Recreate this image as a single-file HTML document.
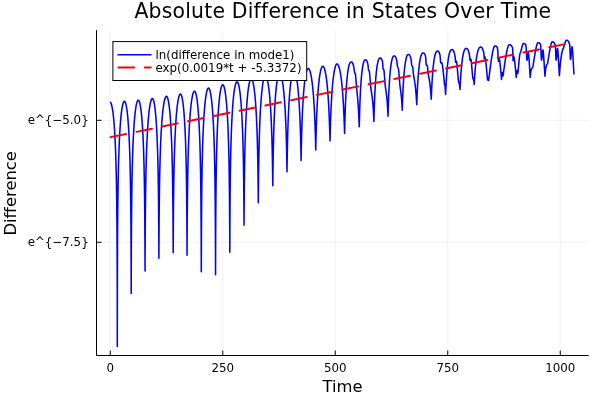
<!DOCTYPE html>
<html><head><meta charset="utf-8"><title>Absolute Difference in States Over Time</title>
<style>
html,body{margin:0;padding:0;background:#fff;}
body{width:600px;height:400px;overflow:hidden;}
svg{display:block;}
text{font-family:"DejaVu Sans","Liberation Sans",sans-serif;fill:#000;}
.tick{font-size:11.85px;}
.guide{font-size:16.4px;}
.title{font-size:20.4px;letter-spacing:0.2px;}
.leg{font-size:11.85px;}
</style></head><body>
<svg width="600" height="400" viewBox="0 0 600 400">
<rect x="0" y="0" width="600" height="400" fill="#ffffff"/>

<line x1="110.25" y1="30.2" x2="110.25" y2="355.5" stroke="#000" stroke-opacity="0.1" stroke-width="0.5"/>
<line x1="222.75" y1="30.2" x2="222.75" y2="355.5" stroke="#000" stroke-opacity="0.1" stroke-width="0.5"/>
<line x1="335.25" y1="30.2" x2="335.25" y2="355.5" stroke="#000" stroke-opacity="0.1" stroke-width="0.5"/>
<line x1="447.75" y1="30.2" x2="447.75" y2="355.5" stroke="#000" stroke-opacity="0.1" stroke-width="0.5"/>
<line x1="560.25" y1="30.2" x2="560.25" y2="355.5" stroke="#000" stroke-opacity="0.1" stroke-width="0.5"/>
<line x1="96.5" y1="120.30" x2="588.6" y2="120.30" stroke="#000" stroke-opacity="0.1" stroke-width="0.5"/>
<line x1="96.5" y1="242.25" x2="588.6" y2="242.25" stroke="#000" stroke-opacity="0.1" stroke-width="0.5"/>
<clipPath id="c"><rect x="96.5" y="30.2" width="492.1" height="325.3"/></clipPath>
<g clip-path="url(#c)"><polyline points="110.00,102.00 110.36,102.15 110.71,102.57 111.05,103.25 111.39,104.19 111.71,105.35 112.03,106.75 112.33,108.36 112.63,110.18 112.92,112.21 113.19,114.44 113.46,116.88 113.72,119.51 113.97,122.35 114.22,125.40 114.45,128.65 114.67,132.11 114.89,135.79 115.09,139.71 115.29,143.86 115.47,148.27 115.65,152.95 115.82,157.92 115.98,163.20 116.13,168.83 116.27,174.83 116.41,181.25 116.53,188.14 116.64,195.56 116.75,203.58 116.84,212.30 116.93,221.83 117.01,232.30 117.08,243.90 117.14,256.83 117.19,271.31 117.23,287.53 117.26,305.41 117.28,323.96 117.30,339.81 117.30,346.50 117.30,339.72 117.32,323.68 117.34,304.98 117.37,287.00 117.41,270.72 117.46,256.19 117.52,243.24 117.58,231.62 117.66,221.13 117.74,211.60 117.84,202.87 117.94,194.84 118.05,187.42 118.17,180.53 118.30,174.10 118.44,168.10 118.58,162.47 118.74,157.18 118.90,152.21 119.08,147.53 119.26,143.12 119.45,138.97 119.65,135.05 119.86,131.37 120.07,127.90 120.30,124.65 120.53,121.61 120.78,118.77 121.03,116.13 121.29,113.69 121.56,111.46 121.84,109.43 122.13,107.61 122.43,106.00 122.74,104.60 123.05,103.44 123.37,102.50 123.71,101.82 124.05,101.40 124.40,101.25 124.40,101.25 124.74,101.39 125.06,101.81 125.38,102.48 125.69,103.40 125.99,104.55 126.29,105.92 126.57,107.50 126.85,109.29 127.12,111.28 127.38,113.47 127.63,115.86 127.87,118.44 128.10,121.22 128.33,124.19 128.54,127.37 128.75,130.74 128.95,134.33 129.14,138.13 129.33,142.16 129.50,146.42 129.67,150.94 129.82,155.71 129.97,160.77 130.11,166.13 130.24,171.82 130.37,177.86 130.48,184.29 130.59,191.14 130.69,198.46 130.78,206.28 130.86,214.65 130.93,223.61 130.99,233.19 131.05,243.35 131.09,254.00 131.13,264.87 131.16,275.41 131.18,284.62 131.20,291.12 131.20,293.50 131.20,291.07 131.22,284.44 131.24,275.07 131.27,264.40 131.31,253.41 131.36,242.67 131.42,232.43 131.48,222.80 131.56,213.80 131.64,205.39 131.74,197.54 131.84,190.20 131.95,183.34 132.07,176.89 132.20,170.84 132.34,165.14 132.48,159.77 132.64,154.71 132.80,149.93 132.98,145.41 133.16,141.14 133.35,137.11 133.55,133.30 133.76,129.71 133.97,126.33 134.20,123.16 134.43,120.18 134.68,117.40 134.93,114.82 135.19,112.43 135.46,110.24 135.74,108.24 136.03,106.45 136.33,104.87 136.64,103.50 136.95,102.35 137.27,101.43 137.61,100.76 137.95,100.34 138.30,100.20 138.30,100.20 138.63,100.34 138.96,100.75 139.27,101.42 139.58,102.32 139.88,103.45 140.17,104.80 140.46,106.36 140.73,108.12 141.00,110.08 141.25,112.24 141.50,114.58 141.74,117.12 141.97,119.85 142.20,122.77 142.41,125.88 142.62,129.18 142.82,132.69 143.01,136.40 143.19,140.33 143.36,144.47 143.53,148.85 143.68,153.47 143.83,158.35 143.97,163.50 144.10,168.95 144.22,174.70 144.34,180.78 144.44,187.21 144.54,194.01 144.63,201.20 144.71,208.79 144.78,216.77 144.84,225.10 144.90,233.70 144.94,242.39 144.98,250.88 145.01,258.68 145.03,265.14 145.05,269.47 145.05,271.00 145.05,269.41 145.07,264.95 145.09,258.30 145.12,250.30 145.16,241.64 145.22,232.79 145.28,224.07 145.34,215.63 145.42,207.57 145.51,199.92 145.61,192.67 145.71,185.82 145.83,179.35 145.95,173.24 146.08,167.46 146.23,162.00 146.38,156.83 146.54,151.93 146.71,147.30 146.89,142.91 147.08,138.75 147.27,134.82 147.48,131.09 147.70,127.58 147.92,124.27 148.16,121.15 148.40,118.23 148.65,115.50 148.91,112.96 149.18,110.60 149.46,108.45 149.75,106.48 150.05,104.72 150.36,103.16 150.68,101.81 151.00,100.67 151.34,99.77 151.68,99.10 152.04,98.69 152.40,98.55 152.40,98.55 152.72,98.69 153.03,99.10 153.34,99.75 153.64,100.65 153.92,101.77 154.20,103.10 154.48,104.65 154.74,106.39 155.00,108.33 155.24,110.46 155.48,112.77 155.72,115.28 155.94,117.97 156.15,120.85 156.36,123.91 156.56,127.17 156.75,130.62 156.93,134.27 157.11,138.12 157.28,142.19 157.43,146.47 157.58,150.99 157.73,155.74 157.86,160.75 157.99,166.02 158.10,171.58 158.21,177.43 158.31,183.58 158.41,190.05 158.49,196.84 158.57,203.95 158.64,211.33 158.70,218.94 158.75,226.67 158.80,234.33 158.84,241.65 158.86,248.21 158.88,253.50 158.90,256.98 158.90,258.20 158.90,256.92 158.92,253.29 158.94,247.77 158.98,240.97 159.02,233.43 159.07,225.56 159.13,217.65 159.20,209.89 159.28,202.38 159.38,195.18 159.47,188.30 159.58,181.76 159.70,175.55 159.83,169.65 159.97,164.05 160.12,158.74 160.27,153.70 160.44,148.92 160.61,144.38 160.80,140.08 160.99,135.99 161.20,132.12 161.41,128.46 161.64,125.00 161.87,121.73 162.11,118.66 162.36,115.77 162.62,113.07 162.89,110.56 163.18,108.24 163.46,106.10 163.76,104.16 164.07,102.41 164.39,100.86 164.72,99.53 165.06,98.40 165.40,97.51 165.76,96.85 166.12,96.44 166.50,96.30 166.50,96.30 166.83,96.44 167.15,96.84 167.47,97.50 167.77,98.39 168.07,99.51 168.36,100.84 168.64,102.37 168.91,104.11 169.18,106.04 169.43,108.16 169.68,110.47 169.92,112.96 170.15,115.64 170.37,118.51 170.58,121.56 170.79,124.79 170.98,128.22 171.17,131.85 171.35,135.68 171.53,139.72 171.69,143.97 171.84,148.45 171.99,153.16 172.13,158.12 172.26,163.34 172.38,168.83 172.49,174.60 172.60,180.66 172.69,187.03 172.78,193.69 172.86,200.63 172.93,207.83 172.99,215.22 173.05,222.68 173.10,230.03 173.13,237.01 173.16,243.23 173.18,248.21 173.20,251.46 173.20,252.60 173.20,251.41 173.22,248.01 173.24,242.82 173.27,236.37 173.31,229.17 173.36,221.60 173.42,213.96 173.49,206.43 173.57,199.10 173.65,192.05 173.75,185.30 173.85,178.87 173.97,172.74 174.09,166.92 174.22,161.38 174.36,156.13 174.51,151.14 174.67,146.39 174.84,141.89 175.01,137.62 175.20,133.56 175.39,129.71 175.60,126.07 175.81,122.63 176.03,119.38 176.26,116.32 176.50,113.45 176.75,110.76 177.01,108.26 177.28,105.94 177.55,103.81 177.84,101.88 178.13,100.14 178.44,98.60 178.75,97.26 179.07,96.15 179.40,95.25 179.74,94.60 180.09,94.19 180.45,94.05 180.45,94.05 180.78,94.19 181.09,94.60 181.40,95.26 181.70,96.15 182.00,97.27 182.28,98.61 182.56,100.15 182.83,101.90 183.09,103.84 183.34,105.98 183.58,108.30 183.82,110.81 184.04,113.50 184.26,116.39 184.47,119.46 184.67,122.72 184.87,126.18 185.05,129.84 185.23,133.70 185.40,137.78 185.56,142.08 185.71,146.61 185.86,151.38 185.99,156.41 186.12,161.71 186.24,167.29 186.35,173.18 186.46,179.37 186.55,185.89 186.64,192.74 186.72,199.91 186.79,207.37 186.85,215.08 186.90,222.93 186.95,230.73 186.98,238.20 187.01,244.92 187.03,250.36 187.05,253.94 187.05,255.20 187.05,253.87 187.07,250.08 187.09,244.35 187.12,237.32 187.17,229.56 187.22,221.49 187.28,213.42 187.35,205.53 187.43,197.90 187.52,190.61 187.62,183.65 187.73,177.05 187.84,170.78 187.97,164.84 188.10,159.20 188.25,153.86 188.40,148.79 188.57,143.98 188.74,139.42 188.93,135.10 189.12,131.00 189.32,127.12 189.53,123.44 189.75,119.97 189.98,116.69 190.22,113.61 190.47,110.72 190.73,108.01 190.99,105.49 191.27,103.16 191.55,101.02 191.85,99.07 192.15,97.32 192.47,95.77 192.79,94.43 193.12,93.31 193.47,92.41 193.82,91.75 194.18,91.34 194.55,91.20 194.55,91.20 194.88,91.34 195.21,91.76 195.52,92.43 195.83,93.34 196.13,94.48 196.42,95.83 196.71,97.41 196.98,99.18 197.25,101.16 197.50,103.33 197.75,105.70 197.99,108.26 198.22,111.01 198.45,113.96 198.66,117.10 198.87,120.44 199.07,123.99 199.26,127.75 199.44,131.72 199.61,135.93 199.78,140.37 199.93,145.07 200.08,150.04 200.22,155.30 200.35,160.86 200.47,166.76 200.59,173.01 200.69,179.65 200.79,186.70 200.88,194.20 200.96,202.17 201.03,210.62 201.09,219.54 201.15,228.87 201.19,238.46 201.23,248.01 201.26,257.00 201.28,264.61 201.30,269.83 201.30,271.70 201.30,269.71 201.32,264.17 201.34,256.15 201.37,246.75 201.41,236.85 201.46,226.97 201.52,217.41 201.59,208.31 201.66,199.72 201.75,191.63 201.84,184.04 201.95,176.91 202.06,170.21 202.18,163.91 202.31,157.97 202.45,152.37 202.60,147.09 202.76,142.09 202.92,137.37 203.10,132.91 203.28,128.69 203.48,124.69 203.68,120.92 203.89,117.36 204.11,114.01 204.34,110.86 204.58,107.91 204.83,105.15 205.08,102.58 205.35,100.21 205.62,98.03 205.91,96.05 206.20,94.27 206.50,92.69 206.81,91.33 207.13,90.19 207.46,89.28 207.80,88.61 208.14,88.19 208.50,88.05 208.50,88.05 208.85,88.19 209.19,88.61 209.52,89.28 209.84,90.19 210.15,91.34 210.46,92.70 210.75,94.28 211.04,96.06 211.32,98.05 211.58,100.23 211.84,102.61 212.10,105.18 212.34,107.95 212.57,110.91 212.80,114.07 213.01,117.43 213.22,121.00 213.42,124.78 213.61,128.79 213.79,133.02 213.96,137.51 214.12,142.25 214.28,147.27 214.42,152.58 214.56,158.21 214.69,164.19 214.81,170.53 214.92,177.29 215.02,184.49 215.11,192.16 215.19,200.35 215.27,209.08 215.33,218.35 215.39,228.12 215.44,238.27 215.48,248.51 215.51,258.30 215.53,266.72 215.55,272.58 215.55,274.70 215.55,272.43 215.57,266.20 215.59,257.32 215.62,247.09 215.66,236.48 215.71,226.04 215.77,216.03 215.84,206.58 215.91,197.71 216.00,189.41 216.09,181.65 216.20,174.38 216.31,167.57 216.43,161.17 216.56,155.16 216.70,149.49 216.85,144.15 217.01,139.11 217.17,134.34 217.35,129.84 217.53,125.59 217.73,121.57 217.93,117.78 218.14,114.20 218.36,110.83 218.59,107.66 218.83,104.69 219.08,101.92 219.33,99.34 219.60,96.96 219.87,94.77 220.16,92.78 220.45,90.99 220.75,89.41 221.06,88.04 221.38,86.90 221.71,85.98 222.05,85.31 222.39,84.89 222.75,84.75 222.75,84.75 223.10,84.89 223.44,85.30 223.77,85.96 224.09,86.86 224.40,87.99 224.71,89.34 225.00,90.89 225.29,92.65 225.57,94.60 225.83,96.75 226.09,99.09 226.35,101.62 226.59,104.34 226.82,107.24 227.05,110.34 227.26,113.63 227.47,117.12 227.67,120.82 227.86,124.72 228.04,128.85 228.21,133.20 228.37,137.79 228.53,142.63 228.67,147.75 228.81,153.14 228.94,158.84 229.06,164.85 229.17,171.20 229.27,177.91 229.36,184.99 229.44,192.44 229.52,200.24 229.58,208.36 229.64,216.70 229.69,225.08 229.73,233.21 229.76,240.63 229.78,246.71 229.80,250.77 229.80,252.20 229.80,250.68 229.82,246.38 229.84,239.96 229.87,232.20 229.91,223.75 229.96,215.09 230.02,206.52 230.09,198.21 230.16,190.25 230.25,182.68 230.34,175.50 230.45,168.70 230.56,162.28 230.68,156.20 230.81,150.46 230.95,145.02 231.10,139.88 231.26,135.00 231.42,130.38 231.60,126.01 231.78,121.86 231.98,117.94 232.18,114.23 232.39,110.72 232.61,107.42 232.84,104.31 233.08,101.39 233.33,98.67 233.58,96.13 233.85,93.78 234.12,91.63 234.41,89.67 234.70,87.91 235.00,86.35 235.31,85.00 235.63,83.87 235.96,82.97 236.30,82.30 236.64,81.89 237.00,81.75 237.00,81.75 237.35,81.89 237.69,82.29 238.02,82.93 238.34,83.81 238.65,84.90 238.96,86.21 239.25,87.72 239.54,89.43 239.82,91.32 240.08,93.40 240.34,95.67 240.60,98.11 240.84,100.74 241.07,103.54 241.30,106.52 241.51,109.68 241.72,113.02 241.92,116.55 242.11,120.27 242.29,124.18 242.46,128.30 242.62,132.61 242.78,137.14 242.92,141.89 243.06,146.87 243.19,152.07 243.31,157.51 243.42,163.19 243.52,169.10 243.61,175.22 243.69,181.52 243.77,187.97 243.83,194.47 243.89,200.92 243.94,207.14 243.98,212.90 244.01,217.90 244.03,221.82 244.05,224.33 244.05,225.20 244.05,224.28 244.07,221.62 244.09,217.50 244.12,212.25 244.16,206.24 244.21,199.78 244.27,193.12 244.34,186.42 244.41,179.81 244.50,173.37 244.59,167.12 244.70,161.12 244.81,155.35 244.93,149.84 245.06,144.57 245.20,139.54 245.35,134.74 245.51,130.16 245.67,125.81 245.85,121.66 246.03,117.72 246.23,113.98 246.43,110.43 246.64,107.06 246.86,103.88 247.09,100.89 247.33,98.07 247.58,95.43 247.83,92.98 248.10,90.70 248.37,88.61 248.66,86.71 248.95,85.00 249.25,83.48 249.56,82.17 249.88,81.07 250.21,80.19 250.55,79.54 250.89,79.14 251.25,79.00 251.25,79.00 251.60,79.13 251.94,79.52 252.27,80.14 252.59,80.99 252.90,82.04 253.21,83.30 253.50,84.76 253.79,86.40 254.07,88.22 254.33,90.22 254.59,92.39 254.85,94.73 255.09,97.24 255.32,99.91 255.55,102.74 255.76,105.74 255.97,108.91 256.17,112.24 256.36,115.73 256.54,119.39 256.71,123.22 256.87,127.22 257.03,131.39 257.17,135.72 257.31,140.23 257.44,144.90 257.56,149.72 257.67,154.69 257.77,159.78 257.86,164.97 257.94,170.21 258.02,175.44 258.08,180.58 258.14,185.53 258.19,190.16 258.23,194.31 258.26,197.80 258.28,200.46 258.30,202.13 258.30,202.70 258.30,202.10 258.32,200.33 258.34,197.52 258.37,193.85 258.41,189.50 258.46,184.67 258.52,179.52 258.58,174.19 258.66,168.79 258.74,163.40 258.84,158.08 258.94,152.87 259.05,147.80 259.17,142.89 259.30,138.14 259.44,133.56 259.58,129.16 259.74,124.94 259.90,120.89 260.07,117.02 260.26,113.31 260.45,109.79 260.65,106.43 260.86,103.23 261.07,100.21 261.30,97.35 261.53,94.66 261.78,92.13 262.03,89.77 262.29,87.59 262.56,85.58 262.84,83.74 263.13,82.09 263.43,80.63 263.74,79.36 264.05,78.30 264.37,77.45 264.71,76.82 265.05,76.43 265.40,76.30 265.40,76.30 265.77,76.43 266.12,76.80 266.47,77.40 266.81,78.21 267.13,79.23 267.45,80.44 267.76,81.84 268.06,83.42 268.36,85.17 268.64,87.08 268.91,89.16 269.17,91.40 269.43,93.79 269.67,96.33 269.91,99.03 270.14,101.87 270.35,104.86 270.56,108.00 270.76,111.28 270.95,114.70 271.13,118.27 271.30,121.97 271.46,125.81 271.62,129.77 271.76,133.86 271.89,138.07 272.02,142.37 272.13,146.75 272.24,151.19 272.34,155.64 272.43,160.08 272.50,164.43 272.57,168.63 272.63,172.60 272.68,176.24 272.73,179.44 272.76,182.08 272.78,184.06 272.80,185.28 272.80,185.70 272.80,185.26 272.82,183.96 272.84,181.87 272.87,179.09 272.91,175.73 272.95,171.92 273.01,167.78 273.07,163.41 273.14,158.90 273.23,154.32 273.31,149.73 273.41,145.17 273.52,140.68 273.63,136.28 273.76,131.99 273.89,127.82 274.03,123.78 274.18,119.88 274.33,116.12 274.50,112.50 274.67,109.03 274.86,105.71 275.05,102.53 275.25,99.51 275.46,96.63 275.67,93.91 275.90,91.34 276.13,88.92 276.37,86.67 276.62,84.57 276.88,82.64 277.15,80.87 277.43,79.29 277.71,77.88 278.01,76.65 278.31,75.63 278.62,74.81 278.94,74.20 279.26,73.83 279.60,73.70 279.60,73.70 279.97,73.82 280.32,74.18 280.67,74.76 281.01,75.54 281.33,76.52 281.65,77.68 281.96,79.02 282.26,80.53 282.56,82.21 282.84,84.04 283.11,86.02 283.37,88.16 283.63,90.43 283.87,92.85 284.11,95.41 284.34,98.10 284.55,100.92 284.76,103.87 284.96,106.94 285.15,110.14 285.33,113.45 285.50,116.88 285.66,120.41 285.82,124.04 285.96,127.75 286.09,131.54 286.22,135.39 286.33,139.27 286.44,143.16 286.54,147.03 286.63,150.82 286.70,154.51 286.77,158.01 286.83,161.28 286.88,164.23 286.93,166.78 286.96,168.87 286.98,170.42 287.00,171.38 287.00,171.70 287.00,171.36 287.02,170.35 287.04,168.71 287.07,166.50 287.11,163.81 287.16,160.71 287.21,157.29 287.28,153.63 287.35,149.80 287.43,145.86 287.52,141.86 287.62,137.84 287.73,133.84 287.85,129.89 287.97,126.00 288.10,122.20 288.25,118.49 288.40,114.88 288.56,111.39 288.73,108.02 288.90,104.77 289.09,101.64 289.28,98.65 289.48,95.79 289.70,93.06 289.92,90.47 290.14,88.02 290.38,85.72 290.63,83.56 290.88,81.55 291.14,79.70 291.42,78.00 291.70,76.48 291.99,75.12 292.28,73.95 292.59,72.96 292.90,72.17 293.23,71.58 293.56,71.22 293.90,71.10 293.90,71.10 294.26,71.22 294.60,71.56 294.94,72.12 295.27,72.87 295.59,73.81 295.90,74.93 296.20,76.22 296.49,77.68 296.78,79.28 297.05,81.04 297.32,82.94 297.57,84.98 297.82,87.15 298.06,89.46 298.29,91.89 298.51,94.45 298.72,97.12 298.92,99.90 299.12,102.80 299.30,105.80 299.48,108.90 299.64,112.09 299.80,115.37 299.95,118.72 300.09,122.13 300.22,125.59 300.34,129.07 300.45,132.57 300.56,136.04 300.65,139.46 300.74,142.80 300.81,146.00 300.88,149.02 300.94,151.80 300.99,154.29 301.03,156.43 301.06,158.17 301.08,159.45 301.10,160.24 301.10,160.50 301.10,160.22 301.12,159.39 301.14,158.03 301.17,156.19 301.21,153.93 301.26,151.30 301.32,148.38 301.38,145.22 301.46,141.87 301.54,138.40 301.64,134.85 301.74,131.25 301.85,127.63 301.97,124.04 302.10,120.48 302.24,116.97 302.38,113.54 302.54,110.18 302.70,106.92 302.88,103.75 303.06,100.69 303.25,97.74 303.45,94.90 303.66,92.18 303.87,89.58 304.10,87.11 304.33,84.77 304.58,82.56 304.83,80.49 305.09,78.57 305.36,76.79 305.64,75.16 305.93,73.69 306.23,72.38 306.54,71.25 306.85,70.29 307.17,69.53 307.51,68.97 307.85,68.62 308.20,68.50 308.20,68.50 308.57,68.61 308.94,68.94 309.29,69.48 309.63,70.20 309.97,71.10 310.30,72.18 310.61,73.41 310.92,74.80 311.22,76.34 311.50,78.01 311.78,79.82 312.05,81.77 312.31,83.83 312.56,86.02 312.80,88.32 313.03,90.74 313.25,93.26 313.47,95.87 313.67,98.59 313.86,101.39 314.05,104.28 314.22,107.24 314.39,110.26 314.54,113.34 314.69,116.45 314.83,119.59 314.95,122.74 315.07,125.87 315.18,128.97 315.28,131.99 315.37,134.91 315.45,137.70 315.52,140.30 315.58,142.68 315.63,144.80 315.67,146.61 315.71,148.06 315.73,149.13 315.75,149.78 315.75,150.00 315.75,149.77 315.77,149.08 315.79,147.96 315.82,146.43 315.86,144.53 315.91,142.31 315.96,139.82 316.03,137.10 316.10,134.20 316.19,131.16 316.28,128.02 316.38,124.82 316.49,121.58 316.61,118.34 316.73,115.11 316.87,111.91 317.01,108.75 317.17,105.65 317.33,102.63 317.50,99.68 317.68,96.82 317.87,94.05 318.06,91.38 318.27,88.82 318.48,86.36 318.71,84.02 318.94,81.80 319.18,79.70 319.43,77.73 319.69,75.89 319.95,74.19 320.23,72.63 320.51,71.22 320.81,69.97 321.11,68.89 321.42,67.97 321.74,67.24 322.07,66.70 322.40,66.37 322.75,66.25 322.75,66.25 323.11,66.36 323.46,66.68 323.80,67.19 324.13,67.88 324.45,68.75 324.76,69.77 325.07,70.95 325.36,72.28 325.65,73.75 325.92,75.35 326.19,77.07 326.45,78.92 326.70,80.89 326.94,82.96 327.17,85.14 327.39,87.42 327.60,89.79 327.81,92.26 328.00,94.80 328.19,97.42 328.36,100.11 328.53,102.86 328.69,105.65 328.84,108.48 328.98,111.34 329.11,114.20 329.23,117.06 329.35,119.89 329.45,122.66 329.55,125.35 329.63,127.94 329.71,130.39 329.78,132.66 329.84,134.73 329.89,136.56 329.93,138.11 329.96,139.35 329.98,140.26 330.00,140.81 330.00,141.00 330.00,140.80 330.02,140.22 330.04,139.26 330.07,137.95 330.11,136.32 330.16,134.40 330.21,132.23 330.28,129.84 330.35,127.28 330.44,124.59 330.53,121.78 330.63,118.91 330.74,115.98 330.86,113.03 330.98,110.07 331.12,107.12 331.26,104.21 331.42,101.34 331.58,98.52 331.75,95.76 331.93,93.08 332.12,90.48 332.31,87.96 332.52,85.54 332.73,83.21 332.96,80.99 333.19,78.88 333.43,76.88 333.68,75.00 333.94,73.24 334.20,71.62 334.48,70.12 334.76,68.78 335.06,67.58 335.36,66.53 335.67,65.65 335.99,64.95 336.32,64.43 336.65,64.11 337.00,64.00 337.00,64.00 337.24,64.04 337.47,64.17 337.70,64.37 337.93,64.65 338.16,65.00 338.38,65.43 338.60,65.93 338.82,66.50 339.03,67.13 339.24,67.84 339.45,68.60 339.65,69.44 339.85,70.33 340.05,71.29 340.25,72.31 340.44,73.39 340.63,74.53 340.81,75.73 340.99,76.99 341.17,78.31 341.35,79.69 341.52,81.12 341.69,82.61 341.85,84.15 342.01,85.75 342.17,87.41 342.32,89.12 342.47,90.88 342.62,92.69 342.76,94.55 342.90,96.46 343.03,98.42 343.16,100.42 343.29,102.46 343.41,104.53 343.53,106.64 343.64,108.78 343.75,110.94 343.85,113.11 343.95,115.28 344.04,117.44 344.13,119.58 344.21,121.69 344.28,123.73 344.35,125.69 344.42,127.55 344.47,129.25 344.52,130.77 344.56,132.05 344.59,133.02 344.60,133.50 344.62,132.77 344.65,131.33 344.69,129.44 344.74,127.22 344.80,124.78 344.86,122.17 344.94,119.47 345.02,116.71 345.11,113.92 345.20,111.13 345.30,108.37 345.40,105.64 345.51,102.97 345.63,100.36 345.75,97.83 345.87,95.37 346.00,92.99 346.14,90.69 346.27,88.48 346.42,86.36 346.56,84.33 346.72,82.38 346.87,80.53 347.03,78.77 347.20,77.10 347.36,75.52 347.54,74.03 347.71,72.63 347.89,71.32 348.08,70.10 348.26,68.97 348.45,67.93 348.65,66.98 348.85,66.11 349.05,65.34 349.25,64.65 349.46,64.04 349.67,63.52 349.89,63.09 350.11,62.74 350.33,62.46 350.55,62.26 350.78,62.13 351.02,62.07 351.25,62.05 351.25,62.05 351.49,62.06 351.72,62.12 351.95,62.26 352.05,62.35 352.18,62.48 352.40,62.78 352.62,63.14 352.84,63.56 352.85,63.58 353.06,64.09 353.27,64.72 353.49,65.46 353.65,66.10 353.69,66.29 353.90,67.54 354.10,69.11 354.30,70.73 354.50,72.13 354.60,72.70 354.69,73.03 354.88,73.20 355.07,73.12 355.25,73.28 355.40,73.90 355.43,74.13 355.61,75.78 355.79,77.84 355.96,79.92 356.00,80.40 356.13,81.87 356.29,83.89 356.45,85.92 356.61,87.83 356.77,89.55 356.80,89.90 356.92,91.07 357.06,92.54 357.21,93.98 357.35,95.40 357.48,96.82 357.62,98.25 357.75,99.69 357.87,101.15 357.99,102.65 358.11,104.18 358.22,105.74 358.33,107.33 358.43,108.95 358.53,110.60 358.62,112.27 358.71,113.94 358.79,115.61 358.87,117.26 358.95,118.88 359.01,120.44 359.07,121.92 359.13,123.29 359.17,124.51 359.21,125.54 359.24,126.31 359.25,126.70 359.27,125.98 359.30,124.54 359.34,122.66 359.40,120.46 359.46,118.04 359.53,115.46 359.61,112.78 359.69,110.04 359.78,107.29 359.88,104.54 359.98,101.81 360.09,99.13 360.21,96.51 360.33,93.95 360.45,91.47 360.58,89.07 360.72,86.76 360.86,84.54 361.01,82.41 361.16,80.37 361.31,78.43 361.47,76.58 361.63,74.83 361.80,73.18 361.98,71.63 362.15,70.17 362.33,68.82 362.52,67.56 362.71,66.39 362.90,65.33 363.09,64.37 363.30,63.50 363.50,62.72 363.71,62.05 363.92,61.46 364.13,60.97 364.35,60.58 364.58,60.27 364.80,60.04 365.03,59.89 365.26,59.82 365.50,59.80 365.50,59.80 365.74,59.82 365.97,59.91 366.21,60.05 366.30,60.13 366.44,60.28 366.67,60.62 366.89,61.05 367.10,61.51 367.12,61.55 367.34,62.15 367.55,62.87 367.77,63.74 367.90,64.34 367.98,64.83 368.19,66.76 368.40,68.88 368.60,70.30 368.60,70.30 368.80,70.73 369.00,70.78 369.19,70.87 369.38,71.42 369.40,71.50 369.57,72.84 369.76,75.00 369.94,77.30 370.00,78.00 370.12,79.42 370.30,81.71 370.47,83.98 370.64,85.98 370.80,87.50 370.81,87.54 370.97,88.78 371.13,89.92 371.29,90.98 371.44,91.99 371.59,92.97 371.73,93.93 371.88,94.88 372.02,95.85 372.15,96.84 372.28,97.86 372.41,98.92 372.53,100.02 372.65,101.17 372.77,102.37 372.88,103.62 372.99,104.91 373.09,106.25 373.19,107.62 373.28,109.03 373.37,110.45 373.45,111.88 373.53,113.30 373.60,114.70 373.66,116.05 373.72,117.34 373.78,118.53 373.82,119.59 373.86,120.49 373.89,121.16 373.90,121.50 373.92,120.86 373.95,119.60 373.99,117.93 374.04,115.97 374.10,113.80 374.17,111.47 374.25,109.05 374.33,106.56 374.42,104.03 374.51,101.50 374.61,98.99 374.72,96.50 374.83,94.06 374.95,91.66 375.07,89.33 375.20,87.07 375.33,84.88 375.46,82.77 375.61,80.73 375.75,78.78 375.90,76.92 376.06,75.14 376.22,73.44 376.38,71.84 376.55,70.32 376.72,68.89 376.89,67.55 377.07,66.30 377.25,65.15 377.44,64.08 377.63,63.10 377.83,62.21 378.02,61.40 378.23,60.69 378.43,60.07 378.64,59.53 378.85,59.08 379.07,58.71 379.29,58.43 379.51,58.22 379.74,58.09 379.97,58.02 380.20,58.00 380.20,58.00 380.43,58.02 380.67,58.08 380.89,58.22 381.00,58.31 381.12,58.45 381.34,58.76 381.56,59.14 381.78,59.59 381.80,59.63 382.00,60.12 382.21,60.76 382.42,61.53 382.60,62.32 382.62,62.46 382.83,65.21 383.03,68.26 383.10,68.80 383.23,69.15 383.42,69.27 383.61,69.28 383.80,69.58 383.90,70.00 383.98,70.57 384.17,72.41 384.35,74.63 384.50,76.50 384.52,76.73 384.69,78.83 384.86,81.02 385.03,83.12 385.19,84.96 385.30,86.00 385.35,86.41 385.50,87.66 385.66,88.80 385.80,89.86 385.95,90.87 386.09,91.85 386.23,92.81 386.36,93.78 386.49,94.76 386.61,95.78 386.74,96.83 386.85,97.92 386.96,99.07 387.07,100.26 387.18,101.50 387.28,102.78 387.37,104.10 387.46,105.45 387.54,106.81 387.62,108.17 387.69,109.52 387.76,110.84 387.82,112.09 387.88,113.26 387.92,114.31 387.96,115.20 387.99,115.86 388.00,116.20 388.02,115.59 388.05,114.38 388.09,112.79 388.15,110.92 388.21,108.84 388.28,106.61 388.36,104.28 388.44,101.89 388.53,99.47 388.63,97.03 388.73,94.60 388.84,92.20 388.96,89.84 389.08,87.54 389.20,85.29 389.33,83.10 389.47,80.99 389.61,78.95 389.76,76.99 389.91,75.11 390.06,73.31 390.22,71.60 390.38,69.98 390.55,68.44 390.73,66.99 390.90,65.64 391.08,64.37 391.27,63.19 391.46,62.10 391.65,61.10 391.84,60.20 392.05,59.38 392.25,58.65 392.46,58.02 392.67,57.47 392.88,57.01 393.10,56.63 393.33,56.34 393.55,56.13 393.78,55.99 394.01,55.92 394.25,55.90 394.25,55.90 394.49,55.92 394.72,55.99 394.95,56.13 395.05,56.21 395.18,56.34 395.40,56.65 395.62,57.04 395.84,57.50 395.85,57.51 396.06,58.04 396.27,58.71 396.49,59.48 396.65,60.17 396.69,60.38 396.90,61.82 397.10,63.60 397.30,65.29 397.50,66.49 397.50,66.50 397.69,67.08 397.88,67.39 398.07,67.63 398.25,67.99 398.43,68.65 398.50,69.00 398.61,69.83 398.79,71.69 398.96,73.81 399.10,75.50 399.13,75.80 399.29,77.80 399.45,79.87 399.61,81.86 399.77,83.66 399.90,85.00 399.92,85.15 400.06,86.41 400.21,87.55 400.35,88.61 400.48,89.61 400.62,90.57 400.75,91.51 400.87,92.45 400.99,93.40 401.11,94.38 401.22,95.38 401.33,96.41 401.43,97.49 401.53,98.59 401.62,99.73 401.71,100.89 401.79,102.06 401.87,103.24 401.95,104.41 402.01,105.55 402.07,106.63 402.13,107.65 402.17,108.56 402.21,109.33 402.24,109.91 402.25,110.20 402.27,109.67 402.30,108.60 402.34,107.19 402.40,105.52 402.46,103.67 402.53,101.68 402.61,99.58 402.69,97.42 402.78,95.22 402.88,93.00 402.98,90.78 403.09,88.57 403.21,86.40 403.33,84.27 403.45,82.18 403.58,80.15 403.72,78.18 403.86,76.28 404.01,74.44 404.16,72.68 404.31,70.99 404.47,69.38 404.63,67.85 404.80,66.40 404.98,65.03 405.15,63.75 405.33,62.55 405.52,61.43 405.71,60.40 405.90,59.45 406.09,58.59 406.30,57.81 406.50,57.12 406.71,56.52 406.92,55.99 407.13,55.55 407.35,55.20 407.58,54.92 407.80,54.72 408.03,54.58 408.26,54.52 408.50,54.50 408.50,54.50 408.73,54.52 408.97,54.59 409.20,54.72 409.30,54.80 409.42,54.91 409.65,55.20 409.87,55.57 410.09,56.01 410.10,56.04 410.30,56.52 410.52,57.14 410.73,57.88 410.90,58.57 410.94,58.73 411.14,60.17 411.34,62.03 411.54,63.86 411.74,65.23 411.80,65.50 411.93,65.89 412.13,66.18 412.31,66.33 412.50,66.54 412.68,66.99 412.80,67.50 412.86,67.91 413.04,69.84 413.21,72.12 413.38,73.87 413.40,74.00 413.55,74.90 413.71,75.88 413.87,76.82 414.03,77.75 414.18,78.66 414.33,79.56 414.48,80.47 414.62,81.38 414.76,82.31 414.90,83.26 415.03,84.22 415.16,85.22 415.29,86.23 415.41,87.28 415.53,88.34 415.64,89.44 415.75,90.55 415.85,91.69 415.95,92.84 416.05,93.99 416.14,95.15 416.23,96.31 416.31,97.45 416.38,98.56 416.45,99.64 416.52,100.67 416.58,101.64 416.63,102.53 416.67,103.31 416.71,103.97 416.74,104.46 416.75,104.70 416.77,104.24 416.80,103.32 416.84,102.10 416.89,100.65 416.96,99.03 417.03,97.28 417.10,95.43 417.19,93.52 417.28,91.55 417.38,89.56 417.48,87.57 417.59,85.57 417.70,83.60 417.82,81.65 417.95,79.74 418.08,77.87 418.21,76.05 418.35,74.28 418.50,72.57 418.65,70.92 418.80,69.33 418.96,67.81 419.12,66.36 419.29,64.98 419.46,63.67 419.63,62.44 419.81,61.28 420.00,60.19 420.18,59.18 420.38,58.24 420.57,57.38 420.77,56.60 420.97,55.90 421.18,55.27 421.39,54.73 421.60,54.25 421.82,53.85 422.04,53.53 422.27,53.28 422.50,53.09 422.73,52.98 422.96,52.92 423.20,52.90 423.20,52.90 423.44,52.91 423.67,52.97 423.90,53.09 424.00,53.16 424.13,53.29 424.36,53.55 424.58,53.88 424.80,54.26 424.80,54.27 425.02,54.72 425.24,55.28 425.45,55.94 425.60,56.50 425.66,56.88 425.87,59.91 426.07,63.34 426.20,64.50 426.27,64.71 426.47,65.06 426.66,65.17 426.85,65.21 427.04,65.29 427.23,65.55 427.41,66.09 427.50,66.50 427.59,67.15 427.76,69.21 427.94,71.46 428.10,73.00 428.11,73.04 428.27,74.04 428.44,74.97 428.59,75.85 428.75,76.70 428.90,77.53 429.05,78.35 429.20,79.17 429.34,79.99 429.47,80.82 429.61,81.67 429.74,82.55 429.86,83.44 429.98,84.37 430.10,85.32 430.21,86.29 430.32,87.29 430.43,88.31 430.52,89.34 430.62,90.39 430.71,91.43 430.79,92.47 430.87,93.49 430.94,94.49 431.01,95.44 431.07,96.34 431.12,97.16 431.17,97.90 431.21,98.51 431.24,98.97 431.25,99.20 431.27,98.77 431.30,97.91 431.34,96.78 431.40,95.43 431.46,93.91 431.53,92.27 431.61,90.54 431.69,88.74 431.78,86.89 431.88,85.02 431.98,83.13 432.09,81.25 432.21,79.39 432.33,77.55 432.45,75.74 432.58,73.97 432.72,72.24 432.86,70.57 433.01,68.95 433.16,67.40 433.31,65.90 433.47,64.47 433.63,63.10 433.80,61.80 433.98,60.58 434.15,59.42 434.33,58.34 434.52,57.33 434.71,56.40 434.90,55.54 435.09,54.76 435.30,54.06 435.50,53.43 435.71,52.88 435.92,52.41 436.13,52.01 436.35,51.68 436.58,51.43 436.80,51.25 437.03,51.13 437.26,51.07 437.50,51.05 437.50,51.05 437.73,51.07 437.97,51.13 438.20,51.25 438.30,51.32 438.42,51.43 438.65,51.69 438.87,52.03 439.09,52.42 439.10,52.45 439.30,52.88 439.51,53.43 439.72,54.10 439.90,54.74 439.93,54.89 440.14,56.68 440.34,59.17 440.54,61.43 440.70,62.50 440.73,62.61 440.93,62.99 441.12,63.06 441.30,62.97 441.49,62.84 441.67,62.78 441.85,62.88 442.02,63.26 442.19,63.97 442.20,64.00 442.36,64.95 442.53,66.02 442.69,67.17 442.85,68.39 443.01,69.66 443.16,70.96 443.31,72.30 443.45,73.64 443.59,75.00 443.73,76.35 443.86,77.70 443.99,79.02 444.12,80.33 444.24,81.60 444.36,82.85 444.48,84.05 444.50,84.30 444.59,84.91 444.69,85.07 444.79,85.02 444.89,85.16 444.98,85.81 445.00,86.00 445.07,86.89 445.15,87.98 445.23,89.03 445.30,90.04 445.37,90.99 445.43,91.86 445.48,92.64 445.52,93.32 445.56,93.88 445.59,94.30 445.60,94.50 445.62,94.11 445.65,93.34 445.69,92.31 445.75,91.08 445.81,89.70 445.88,88.21 445.96,86.62 446.04,84.97 446.14,83.27 446.23,81.54 446.34,79.80 446.45,78.06 446.56,76.32 446.69,74.61 446.81,72.92 446.95,71.27 447.08,69.65 447.22,68.09 447.37,66.57 447.52,65.10 447.68,63.69 447.84,62.34 448.00,61.04 448.17,59.82 448.35,58.66 448.52,57.56 448.71,56.54 448.89,55.58 449.08,54.69 449.28,53.88 449.48,53.14 449.68,52.47 449.88,51.87 450.09,51.35 450.31,50.89 450.52,50.51 450.74,50.20 450.97,49.96 451.20,49.79 451.43,49.67 451.66,49.61 451.90,49.60 451.90,49.60 452.13,49.62 452.37,49.67 452.60,49.78 452.70,49.85 452.82,49.95 453.05,50.20 453.27,50.51 453.49,50.88 453.50,50.91 453.70,51.32 453.91,51.86 454.12,52.48 454.30,53.05 454.33,53.16 454.54,53.89 454.74,54.71 454.94,55.66 455.10,56.57 455.13,56.81 455.33,59.07 455.52,61.36 455.60,61.90 455.70,62.14 455.89,61.99 456.07,61.51 456.25,61.12 456.42,61.21 456.50,61.50 456.59,62.02 456.76,63.16 456.93,64.53 457.09,66.06 457.25,67.70 457.41,69.42 457.56,71.16 457.71,72.88 457.85,74.56 457.99,76.18 458.13,77.69 458.26,79.09 458.39,80.36 458.50,81.30 458.52,81.47 458.64,82.14 458.76,82.38 458.88,82.42 458.99,82.44 459.09,82.59 459.19,82.97 459.20,83.00 459.29,83.50 459.38,84.03 459.47,84.55 459.55,85.10 459.63,85.66 459.70,86.24 459.77,86.83 459.83,87.42 459.88,87.98 459.92,88.51 459.96,88.97 459.99,89.32 460.00,89.50 460.02,89.16 460.05,88.47 460.09,87.56 460.15,86.47 460.21,85.24 460.28,83.91 460.36,82.49 460.44,81.01 460.53,79.48 460.63,77.92 460.73,76.34 460.84,74.76 460.96,73.18 461.08,71.61 461.20,70.07 461.33,68.55 461.47,67.07 461.61,65.62 461.76,64.22 461.91,62.86 462.06,61.55 462.22,60.30 462.38,59.10 462.55,57.96 462.73,56.88 462.90,55.86 463.08,54.90 463.27,54.01 463.46,53.18 463.65,52.42 463.84,51.72 464.05,51.09 464.25,50.53 464.46,50.04 464.67,49.62 464.88,49.26 465.10,48.97 465.33,48.74 465.55,48.58 465.78,48.47 466.01,48.41 466.25,48.40 466.25,48.40 466.49,48.42 466.72,48.47 466.96,48.58 467.05,48.64 467.19,48.75 467.42,49.00 467.64,49.31 467.85,49.65 467.86,49.67 468.08,50.12 468.30,50.65 468.51,51.27 468.65,51.70 468.72,51.93 468.93,52.66 469.13,53.49 469.33,54.44 469.45,55.06 469.53,55.66 469.73,57.79 469.92,59.74 470.00,60.20 470.11,60.44 470.29,60.31 470.47,59.82 470.65,59.32 470.83,59.16 471.00,59.60 471.00,59.61 471.17,60.64 471.34,61.99 471.50,63.58 471.66,65.31 471.81,67.12 471.96,68.96 472.11,70.75 472.25,72.47 472.39,74.06 472.53,75.49 472.66,76.74 472.75,77.50 472.79,77.77 472.91,78.31 473.03,78.52 473.14,78.63 473.26,78.84 473.30,79.00 473.36,79.24 473.46,79.63 473.56,80.00 473.65,80.37 473.73,80.77 473.81,81.20 473.89,81.65 473.96,82.14 474.02,82.63 474.07,83.13 474.12,83.59 474.16,84.01 474.19,84.33 474.20,84.50 474.22,84.21 474.25,83.63 474.29,82.85 474.34,81.92 474.40,80.87 474.47,79.73 474.55,78.50 474.63,77.22 474.72,75.89 474.82,74.53 474.92,73.14 475.03,71.75 475.14,70.35 475.26,68.96 475.39,67.59 475.52,66.23 475.65,64.89 475.79,63.59 475.93,62.31 476.08,61.08 476.23,59.88 476.39,58.73 476.55,57.62 476.72,56.57 476.89,55.56 477.06,54.60 477.24,53.70 477.42,52.85 477.61,52.06 477.80,51.33 477.99,50.66 478.19,50.04 478.39,49.48 478.60,48.99 478.80,48.55 479.02,48.18 479.23,47.86 479.45,47.60 479.67,47.40 479.90,47.26 480.13,47.16 480.36,47.11 480.60,47.10 480.60,47.10 480.84,47.11 481.07,47.16 481.31,47.25 481.40,47.31 481.53,47.41 481.76,47.61 481.98,47.87 482.20,48.20 482.20,48.21 482.42,48.62 482.63,49.07 482.84,49.58 483.00,50.01 483.04,50.13 483.25,50.76 483.44,51.46 483.64,52.24 483.80,52.95 483.83,53.11 484.02,54.90 484.20,57.17 484.38,58.81 484.40,58.90 484.56,59.13 484.73,58.56 484.90,57.74 485.06,57.21 485.22,57.46 485.25,57.60 485.38,58.44 485.53,59.52 485.68,60.66 485.82,61.86 485.96,63.08 486.10,64.33 486.23,65.59 486.35,66.85 486.47,68.10 486.59,69.33 486.70,70.53 486.80,71.70 486.90,72.82 486.99,73.90 487.08,74.92 487.16,75.88 487.23,76.77 487.30,77.57 487.36,78.30 487.41,78.92 487.45,79.44 487.48,79.81 487.50,80.00 487.51,79.81 487.54,79.46 487.58,79.06 487.63,78.66 487.68,78.33 487.74,78.09 487.81,77.96 487.89,77.93 487.97,77.96 488.05,78.00 488.10,78.00 488.14,78.04 488.24,78.42 488.34,79.09 488.45,79.84 488.56,80.41 488.67,80.45 488.75,80.00 488.79,79.62 488.92,78.54 489.05,77.43 489.18,76.31 489.31,75.16 489.45,74.00 489.60,72.82 489.75,71.62 489.90,70.41 490.05,69.19 490.21,67.95 490.37,66.71 490.54,65.47 490.71,64.22 490.88,62.97 491.06,61.73 491.24,60.49 491.42,59.27 491.61,58.06 491.80,56.87 491.99,55.71 492.18,54.58 492.38,53.48 492.58,52.43 492.79,51.43 493.00,50.49 493.21,49.61 493.42,48.81 493.64,48.08 493.86,47.45 494.08,46.91 494.31,46.48 494.53,46.16 494.77,45.96 495.00,45.90 495.00,45.90 495.23,45.90 495.47,45.92 495.69,45.99 495.80,46.04 495.92,46.10 496.14,46.23 496.36,46.38 496.57,46.58 496.60,46.61 496.79,46.78 496.99,46.96 497.20,47.25 497.40,47.75 497.40,47.75 497.59,49.15 497.79,51.68 497.98,54.69 498.16,57.63 498.35,59.98 498.50,61.20 498.52,61.30 498.70,61.27 498.87,60.36 499.04,59.23 499.20,58.47 499.36,58.56 499.40,58.80 499.51,59.55 499.66,60.62 499.80,61.73 499.94,62.85 500.08,63.99 500.21,65.15 500.34,66.31 500.46,67.46 500.58,68.61 500.69,69.75 500.79,70.87 500.89,71.97 500.99,73.03 501.08,74.05 501.16,75.03 501.23,75.94 501.30,76.79 501.36,77.56 501.41,78.23 501.45,78.78 501.48,79.20 501.50,79.40 501.51,79.21 501.54,78.85 501.58,78.37 501.63,77.81 501.68,77.21 501.74,76.59 501.81,75.97 501.88,75.36 501.96,74.79 502.05,74.25 502.14,73.77 502.23,73.34 502.33,72.97 502.44,72.66 502.50,72.50 502.55,72.49 502.66,73.10 502.78,74.25 502.90,75.41 503.03,75.89 503.10,75.60 503.16,75.13 503.30,74.09 503.43,73.03 503.58,71.96 503.72,70.87 503.87,69.77 504.03,68.65 504.19,67.52 504.35,66.37 504.51,65.22 504.68,64.06 504.85,62.90 505.02,61.74 505.20,60.57 505.38,59.41 505.57,58.26 505.75,57.12 505.95,55.99 506.14,54.89 506.34,53.81 506.54,52.75 506.74,51.74 506.94,50.76 507.15,49.83 507.37,48.96 507.58,48.14 507.80,47.39 508.02,46.72 508.24,46.13 508.47,45.63 508.70,45.23 508.93,44.94 509.16,44.76 509.40,44.70 509.40,44.70 509.64,44.70 509.87,44.72 510.10,44.78 510.20,44.82 510.33,44.88 510.55,45.00 510.77,45.14 510.99,45.32 511.00,45.33 511.20,45.54 511.41,45.80 511.62,46.08 511.80,46.36 511.83,46.40 512.03,46.70 512.22,47.00 512.42,47.42 512.60,48.01 512.61,48.04 512.79,52.27 512.98,58.42 513.10,60.60 513.15,60.76 513.33,60.34 513.50,59.06 513.67,57.65 513.83,56.77 513.99,56.94 514.00,57.00 514.15,57.92 514.30,58.93 514.44,59.97 514.59,61.04 514.72,62.11 514.86,63.20 514.99,64.30 515.11,65.39 515.23,66.48 515.34,67.56 515.45,68.63 515.56,69.67 515.65,70.69 515.75,71.67 515.83,72.62 515.91,73.51 515.99,74.35 516.05,75.13 516.11,75.83 516.16,76.44 516.20,76.94 516.24,77.31 516.25,77.50 516.26,77.29 516.29,76.89 516.33,76.36 516.38,75.76 516.44,75.12 516.50,74.46 516.57,73.81 516.65,73.19 516.73,72.62 516.82,72.10 516.91,71.64 517.01,71.25 517.12,70.92 517.23,70.65 517.30,70.50 517.34,70.48 517.46,71.01 517.58,72.04 517.71,73.02 517.84,73.29 517.90,73.00 517.98,72.36 518.12,71.11 518.26,69.70 518.41,68.15 518.56,66.48 518.72,64.72 518.88,62.92 519.04,61.10 519.21,59.33 519.38,57.65 519.56,56.13 519.74,54.83 519.92,53.83 520.00,53.50 520.10,53.21 520.29,52.90 520.48,52.55 520.50,52.50 520.68,51.97 520.88,51.31 521.08,50.57 521.28,49.78 521.49,48.94 521.70,48.08 521.92,47.22 522.13,46.38 522.35,45.60 522.58,44.89 522.80,44.28 523.03,43.81 523.26,43.51 523.50,43.40 523.50,43.40 523.73,43.40 523.96,43.43 524.19,43.50 524.30,43.55 524.41,43.61 524.64,43.75 524.85,43.92 525.07,44.13 525.10,44.17 525.28,44.36 525.49,44.59 525.69,44.90 525.89,45.38 525.90,45.41 526.09,47.01 526.28,50.21 526.47,53.98 526.66,57.40 526.84,59.65 526.90,60.00 527.02,60.28 527.20,59.89 527.37,58.84 527.54,57.41 527.71,55.84 527.87,54.37 528.02,53.18 528.18,52.44 528.32,52.27 528.47,52.79 528.50,53.00 528.61,53.91 528.75,55.28 528.88,56.83 529.00,58.48 529.13,60.21 529.24,61.97 529.36,63.72 529.46,65.43 529.57,67.07 529.66,68.64 529.75,70.10 529.84,71.46 529.92,72.69 529.99,73.80 530.06,74.78 530.11,75.63 530.16,76.33 530.21,76.90 530.24,77.30 530.25,77.50 530.26,77.31 530.29,76.94 530.33,76.45 530.38,75.88 530.43,75.26 530.49,74.60 530.56,73.93 530.63,73.27 530.71,72.62 530.79,72.00 530.88,71.42 530.98,70.89 531.08,70.41 531.18,69.98 531.29,69.61 531.41,69.30 531.52,69.03 531.64,68.81 531.77,68.61 531.90,68.42 532.03,68.24 532.17,68.03 532.30,67.80 532.31,67.77 532.46,67.66 532.61,67.59 532.76,67.19 532.80,67.00 532.92,66.32 533.08,65.39 533.24,64.42 533.41,63.42 533.58,62.39 533.75,61.32 533.93,60.23 534.11,59.12 534.29,57.98 534.48,56.84 534.67,55.68 534.86,54.52 535.06,53.36 535.25,52.22 535.46,51.09 535.66,49.99 535.87,48.93 536.08,47.91 536.29,46.95 536.51,46.06 536.73,45.24 536.95,44.52 537.17,43.89 537.40,43.39 537.63,43.01 537.86,42.78 538.10,42.70 538.10,42.70 538.34,42.70 538.57,42.72 538.81,42.78 538.90,42.82 539.03,42.89 539.26,43.01 539.48,43.16 539.70,43.34 539.70,43.35 539.92,43.53 540.13,43.72 540.34,44.01 540.50,44.39 540.54,44.58 540.75,46.96 540.94,50.82 541.14,54.99 541.33,58.38 541.50,60.00 541.52,60.07 541.70,60.07 541.88,59.08 542.06,57.45 542.23,55.51 542.40,53.55 542.56,51.84 542.72,50.58 542.88,49.96 543.03,50.13 543.10,50.50 543.18,51.10 543.32,52.41 543.46,53.91 543.60,55.54 543.73,57.28 543.85,59.05 543.97,60.84 544.09,62.61 544.20,64.32 544.30,65.97 544.40,67.52 544.49,68.97 544.58,70.31 544.66,71.53 544.73,72.62 544.80,73.59 544.86,74.41 544.91,75.11 544.95,75.66 544.98,76.06 545.00,76.25 545.01,76.04 545.04,75.62 545.08,75.07 545.13,74.43 545.19,73.72 545.25,72.96 545.32,72.18 545.40,71.40 545.48,70.62 545.57,69.87 545.66,69.15 545.76,68.47 545.87,67.84 545.98,67.26 546.09,66.74 546.21,66.27 546.33,65.84 546.46,65.47 546.59,65.13 546.73,64.81 546.87,64.50 547.01,64.19 547.10,64.00 547.16,63.90 547.31,63.82 547.47,63.67 547.60,63.20 547.63,63.03 547.79,62.10 547.96,61.13 548.13,60.11 548.31,59.05 548.49,57.96 548.67,56.83 548.85,55.69 549.04,54.52 549.23,53.34 549.43,52.16 549.63,50.98 549.83,49.82 550.03,48.69 550.24,47.59 550.45,46.55 550.67,45.57 550.88,44.67 551.10,43.86 551.33,43.16 551.55,42.59 551.78,42.16 552.01,41.89 552.25,41.80 552.25,41.80 552.49,41.81 552.72,41.83 552.95,41.90 553.05,41.95 553.18,42.02 553.40,42.16 553.63,42.34 553.84,42.56 553.85,42.57 554.06,42.83 554.27,43.14 554.48,43.50 554.65,43.82 554.69,43.90 554.89,44.31 555.09,44.77 555.28,45.30 555.45,45.85 555.47,46.00 555.66,50.55 555.85,56.91 556.00,59.75 556.03,59.86 556.21,59.89 556.38,59.01 556.55,57.53 556.72,55.71 556.88,53.77 557.04,51.94 557.20,50.38 557.35,49.24 557.50,48.66 557.64,48.72 557.75,49.30 557.78,49.51 557.91,50.81 558.04,52.42 558.17,54.26 558.29,56.23 558.40,58.28 558.52,60.33 558.62,62.34 558.72,64.27 558.82,66.09 558.91,67.78 558.99,69.31 559.07,70.68 559.14,71.88 559.21,72.91 559.27,73.78 559.32,74.49 559.36,75.03 559.39,75.42 559.40,75.60 559.41,75.37 559.44,74.92 559.48,74.31 559.53,73.59 559.59,72.76 559.65,71.86 559.73,70.89 559.80,69.87 559.89,68.82 559.98,67.73 560.07,66.63 560.17,65.52 560.28,64.41 560.39,63.30 560.50,62.20 560.62,61.12 560.75,60.06 560.88,59.02 561.01,58.02 561.15,57.04 561.29,56.11 561.44,55.21 561.59,54.35 561.74,53.54 561.90,52.77 562.06,52.04 562.23,51.37 562.40,50.74 562.57,50.15 562.75,49.62 562.90,49.20 562.93,49.13 563.11,48.87 563.30,48.65 563.40,48.40 563.49,48.11 563.68,47.47 563.88,46.78 564.08,46.07 564.29,45.34 564.49,44.60 564.70,43.87 564.92,43.16 565.13,42.48 565.35,41.86 565.58,41.31 565.80,40.85 566.03,40.50 566.26,40.28 566.50,40.20 566.50,40.20 566.73,40.21 566.97,40.24 567.19,40.31 567.30,40.36 567.42,40.43 567.64,40.58 567.86,40.76 568.08,41.00 568.10,41.03 568.29,41.28 568.50,41.61 568.71,41.98 568.90,42.37 568.92,42.41 569.12,42.88 569.32,43.40 569.51,43.96 569.70,44.55 569.70,44.57 569.89,47.50 570.08,52.79 570.26,57.61 570.40,59.40 570.44,59.54 570.62,59.48 570.79,58.57 570.96,57.06 571.13,55.19 571.29,53.17 571.45,51.20 571.60,49.44 571.75,48.03 571.90,47.10 572.05,46.74 572.19,47.03 572.25,47.40 572.32,47.98 572.45,49.31 572.58,50.91 572.71,52.69 572.83,54.59 572.94,56.56 573.05,58.53 573.16,60.47 573.26,62.34 573.36,64.12 573.45,65.78 573.53,67.31 573.61,68.69 573.69,69.93 573.76,71.02 573.82,71.95 573.87,72.74 573.92,73.38 573.96,73.88 573.99,74.23 574.00,74.40" fill="none" stroke="#0000ff" stroke-width="1.55" stroke-linejoin="round"/>
<line x1="110.55" y1="137.14" x2="573.75" y2="42.29" stroke="#ff0000" stroke-width="2.0" stroke-linecap="round" stroke-dasharray="15.9 10.44"/></g>
<line x1="96.5" y1="355.5" x2="588.6" y2="355.5" stroke="#000" stroke-width="1"/>
<line x1="96.5" y1="30.2" x2="96.5" y2="355.5" stroke="#000" stroke-width="1"/>
<line x1="110.25" y1="355.5" x2="110.25" y2="350.5" stroke="#000" stroke-width="1"/>
<text class="tick" x="110.25" y="371.65" text-anchor="middle">0</text>
<line x1="222.75" y1="355.5" x2="222.75" y2="350.5" stroke="#000" stroke-width="1"/>
<text class="tick" x="222.75" y="371.65" text-anchor="middle">250</text>
<line x1="335.25" y1="355.5" x2="335.25" y2="350.5" stroke="#000" stroke-width="1"/>
<text class="tick" x="335.25" y="371.65" text-anchor="middle">500</text>
<line x1="447.75" y1="355.5" x2="447.75" y2="350.5" stroke="#000" stroke-width="1"/>
<text class="tick" x="447.75" y="371.65" text-anchor="middle">750</text>
<line x1="560.25" y1="355.5" x2="560.25" y2="350.5" stroke="#000" stroke-width="1"/>
<text class="tick" x="560.25" y="371.65" text-anchor="middle">1000</text>
<line x1="96.5" y1="120.30" x2="101.5" y2="120.30" stroke="#000" stroke-width="1"/>
<text class="tick" x="88.7" y="124.30" text-anchor="end">e^{−5.0}</text>
<line x1="96.5" y1="242.25" x2="101.5" y2="242.25" stroke="#000" stroke-width="1"/>
<text class="tick" x="88.7" y="246.25" text-anchor="end">e^{−7.5}</text>
<text class="title" x="342.9" y="18" text-anchor="middle">Absolute Difference in States Over Time</text>
<text class="guide" x="342.6" y="392.3" text-anchor="middle">Time</text>
<text class="guide" transform="translate(16.4,193.3) rotate(-90)" text-anchor="middle">Difference</text>
<rect x="112.9" y="41.6" width="193.8" height="38.9" fill="#fff" stroke="#000" stroke-width="1"/>
<line x1="117.5" y1="54.75" x2="151.5" y2="54.75" stroke="#0000ff" stroke-width="1.3"/>
<line x1="118.4" y1="67.6" x2="150.8" y2="67.6" stroke="#ff0000" stroke-width="2.0" stroke-linecap="round" stroke-dasharray="15.9 10.44"/>
<text class="leg" x="155.5" y="58.5">ln(difference in mode1)</text>
<text class="leg" x="155.5" y="71.5">exp(0.0019*t + -5.3372)</text>
</svg></body></html>
